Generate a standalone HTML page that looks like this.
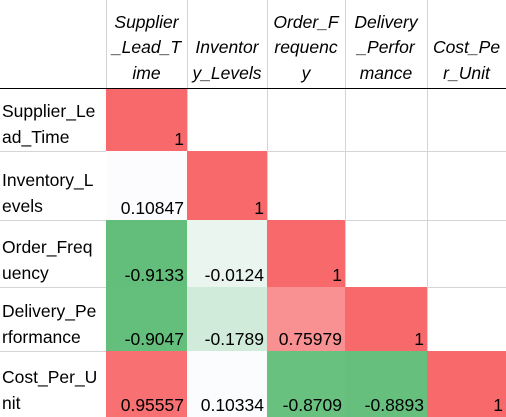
<!DOCTYPE html>
<html><head><meta charset="utf-8"><style>
body{margin:0;width:506px;height:417px;background:#fff;overflow:hidden;font-family:"Liberation Sans",sans-serif;}
#wrap{position:relative;width:506px;height:417px;}
.c{position:absolute;box-sizing:border-box;font-size:17.5px;color:#000;white-space:nowrap;}
.vl{position:absolute;top:0;width:1px;height:417px;background:#d4d4d4;}
.hl{position:absolute;left:0;width:506px;height:1px;background:#d4d4d4;}
</style></head><body>
<div id="wrap"></div>
<script>
const categories=["Supplier_Lead_Time","Inventory_Levels","Order_Frequency","Delivery_Performance","Cost_Per_Unit"];
const headerLines=[["Supplier","_Lead_T","ime"],["Inventor","y_Levels"],["Order_F","requenc","y"],["Delivery","_Perfor","mance"],["Cost_Pe","r_Unit"]];
const rowLines=[["Supplier_Le","ad_Time"],["Inventory_L","evels"],["Order_Freq","uency"],["Delivery_Pe","rformance"],["Cost_Per_U","nit"]];
const row0=[1];
const row1=[0.10847,1];
const row2=[-0.9133,-0.0124,1];
const row3=[-0.9047,-0.1789,0.75979,1];
const row4=[0.95557,0.10334,-0.8709,-0.8893,1];
const matrix=[row0,row1,row2,row3,row4];
const colX=[0,106,187,267,345,427,506];
const rowY=[0,89,151,220,287,351,417];
const W=document.getElementById('wrap');
const all=matrix.flat().slice().sort((a,b)=>a-b);
const mn=all[0],mx=all[all.length-1],md=all[Math.floor(all.length/2)];
function mix(a,b,t){return a.map((v,i)=>Math.round(v+(b[i]-v)*t));}
function color(v){const G=[99,190,123],Wt=[252,252,255],R=[248,105,107];
 const c=v<=md?mix(G,Wt,(v-mn)/(md-mn)):mix(Wt,R,(v-md)/(mx-md));return `rgb(${c.join(',')})`;}
function fmt(v){if(v===1)return "1";let s=String(parseFloat(v.toPrecision(5)));if(Math.abs(v)>=0.5&&v<0)s=v.toFixed(4);return s;}
// grid lines (beneath cells)
for(let i=1;i<colX.length-1;i++){const l=document.createElement('div');l.className='vl';l.style.left=colX[i]+'px';
 
 W.appendChild(l);}
for(let i=2;i<rowY.length-1;i++){const l=document.createElement('div');l.className='hl';l.style.top=rowY[i]+'px';
 
 W.appendChild(l);}
// cells
matrix.forEach((row,r)=>row.forEach((v,c)=>{
 const d=document.createElement('div');d.className='c';
 
 
 d.style.left=colX[c+1]+'px';d.style.top=rowY[r+1]+'px';
 d.style.width=(colX[c+2]-colX[c+1])+'px';d.style.height=(rowY[r+2]-rowY[r+1])+'px';
 d.style.background=color(v);d.style.padding='0 3px 1px 0';
 d.style.display='flex';d.style.alignItems='flex-end';d.style.justifyContent='flex-end';
 d.textContent=fmt(v);W.appendChild(d);}));
const hb=document.createElement('div');hb.className='hl';hb.style.top=(rowY[1]-1)+'px';hb.style.background='#000';

W.appendChild(hb);
// headers
headerLines.forEach((lines,c)=>{const d=document.createElement('div');d.className='c';
 
 
 d.style.left=colX[c+1]+'px';d.style.width=(colX[c+2]-colX[c+1])+'px';d.style.bottom=(417-rowY[1]+3)+'px';
 d.style.textAlign='center';d.style.fontStyle='italic';d.style.lineHeight='25.5px';
 d.innerHTML=lines.join('<br>');W.appendChild(d);});
rowLines.forEach((lines,r)=>{const d=document.createElement('div');d.className='c';
 
 
 d.style.left='2px';d.style.width='104px';d.style.bottom=(417-rowY[r+2]+1)+'px';d.style.lineHeight='25.5px';
 d.innerHTML=lines.join('<br>');W.appendChild(d);});
</script>
</body></html>
